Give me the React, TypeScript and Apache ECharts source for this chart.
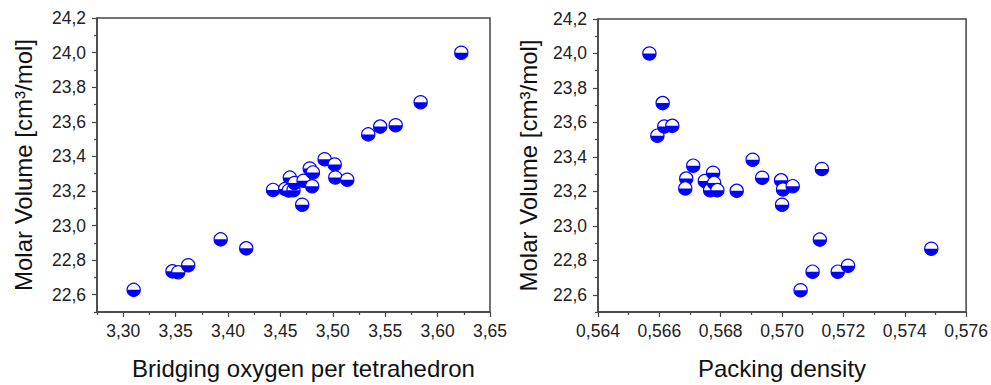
import React, { useEffect, useRef } from 'react';
import * as echarts from 'echarts';

// Left panel: bridging oxygen per tetrahedron vs molar volume
const boLeft = [3.310, 3.347, 3.3525, 3.362, 3.393, 3.4174, 3.443, 3.4546, 3.458, 3.4625, 3.459, 3.4635, 3.4708, 3.4721, 3.478, 3.481, 3.4803, 3.4922, 3.5018, 3.5024, 3.5138, 3.5338, 3.5452, 3.560, 3.5838, 3.6226];
const mvLeft = [22.628, 22.735, 22.730, 22.770, 22.920, 22.868, 23.206, 23.211, 23.203, 23.204, 23.277, 23.246, 23.120, 23.259, 23.330, 23.307, 23.227, 23.383, 23.353, 23.278, 23.265, 23.527, 23.572, 23.580, 23.713, 23.999];

// Right panel: packing density vs molar volume
const pdRight = [0.565676, 0.566108, 0.565935, 0.566162, 0.566422, 0.567104, 0.566877, 0.566845, 0.567483, 0.567753, 0.567655, 0.567785, 0.567892, 0.568522, 0.569041, 0.569352, 0.569968, 0.570033, 0.570348, 0.570000, 0.571298, 0.571232, 0.570995, 0.570605, 0.571816, 0.572151, 0.574865];
const mvRight = [24.000, 23.712, 23.523, 23.576, 23.580, 23.349, 23.274, 23.217, 23.260, 23.308, 23.207, 23.249, 23.207, 23.203, 23.383, 23.279, 23.264, 23.211, 23.230, 23.122, 23.330, 22.920, 22.734, 22.626, 22.734, 22.768, 22.867];

const yMajor = [22.6, 22.8, 23.0, 23.2, 23.4, 23.6, 23.8, 24.0, 24.2];
const yMinor = [22.5, 22.7, 22.9, 23.1, 23.3, 23.5, 23.7, 23.9, 24.1];
const xLeftMajor = [3.30, 3.35, 3.40, 3.45, 3.50, 3.55, 3.60, 3.65];
const xLeftMinor = [3.275, 3.325, 3.375, 3.425, 3.475, 3.525, 3.575, 3.625];
const xRightMajor = [0.564, 0.566, 0.568, 0.570, 0.572, 0.574, 0.576];
const xRightMinor = [0.565, 0.567, 0.569, 0.571, 0.573, 0.575];

const yName = 'Molar Volume [cm³/mol]';
const xNameLeft = 'Bridging oxygen per tetrahedron';
const xNameRight = 'Packing density';

const FONT = '"Liberation Sans", Arial, Helvetica, sans-serif';
const AX = '#444';
const BLUE = '#0000ff';

function mainX(grid: number, min: number, max: number, major: number[], dec: number, name: string, shift: number) {
  return {
    type: 'value', gridIndex: grid, min, max, position: 'bottom',
    name, nameLocation: 'middle', nameGap: 44,
    nameTextStyle: { fontFamily: FONT, fontSize: 24, color: '#111', padding: [0, 0, 0, shift] },
    axisLine: { show: true, lineStyle: { color: AX, width: 1.5 } },
    axisTick: { show: true, inside: false, length: 5, customValues: major, lineStyle: { color: AX, width: 1.2 } },
    axisLabel: { show: true, customValues: major, margin: 10, fontFamily: FONT, fontSize: 17.5, color: '#222',
      formatter: (v: number) => v.toFixed(dec).replace('.', ',') },
    splitLine: { show: false },
  };
}
function minorX(grid: number, min: number, max: number, minor: number[]) {
  return {
    type: 'value', gridIndex: grid, min, max, position: 'bottom',
    axisLine: { show: false },
    axisTick: { show: true, inside: false, length: 3, customValues: minor, lineStyle: { color: AX, width: 1.2 } },
    axisLabel: { show: false },
    splitLine: { show: false },
  };
}
function mainY(grid: number, gap: number) {
  return {
    type: 'value', gridIndex: grid, min: 22.5, max: 24.2, position: 'left',
    name: yName, nameLocation: 'middle', nameGap: gap, nameRotate: 90,
    nameTextStyle: { fontFamily: FONT, fontSize: 24, color: '#111' },
    axisLine: { show: true, lineStyle: { color: AX, width: 1.5 } },
    axisTick: { show: true, inside: false, length: 5, customValues: yMajor, lineStyle: { color: AX, width: 1.2 } },
    axisLabel: { show: true, customValues: yMajor, margin: 11, fontFamily: FONT, fontSize: 17.5, color: '#222',
      formatter: (v: number) => v.toFixed(1).replace('.', ',') },
    splitLine: { show: false },
  };
}
function minorY(grid: number) {
  return {
    type: 'value', gridIndex: grid, min: 22.5, max: 24.2, position: 'left',
    axisLine: { show: false },
    axisTick: { show: true, inside: false, length: 3, customValues: yMinor, lineStyle: { color: AX, width: 1.2 } },
    axisLabel: { show: false },
    splitLine: { show: false },
  };
}

const renderMarker = (params: any, api: any) => {
  const p = api.coord([api.value(0), api.value(1)]);
  const r = 6.6;
  return {
    type: 'group',
    children: [
      { type: 'circle', shape: { cx: p[0], cy: p[1], r }, style: { fill: '#fff', stroke: BLUE, lineWidth: 1.2 } },
      { type: 'sector', shape: { cx: p[0], cy: p[1], r0: 0, r: r, startAngle: 0, endAngle: Math.PI, clockwise: true }, style: { fill: BLUE } },
    ],
  };
};

export default function App() {
  const ref = useRef<HTMLDivElement>(null);
  useEffect(() => {
    document.body.style.margin = '0';
    if (!ref.current) return;
    const chart = echarts.init(ref.current, undefined, { renderer: 'svg' });
    const leftData = boLeft.map((x, i) => [x, mvLeft[i]]);
    const rightData = pdRight.map((x, i) => [x, mvRight[i]]);
    chart.setOption({
      animation: false,
      backgroundColor: '#fff',
      grid: [
        { left: 97, top: 18, width: 393, height: 301, show: true, borderColor: AX, borderWidth: 1.5, backgroundColor: 'transparent' },
        { left: 598, top: 19, width: 370, height: 301, show: true, borderColor: AX, borderWidth: 1.5, backgroundColor: 'transparent' },
      ],
      xAxis: [
        mainX(0, 3.275, 3.65, xLeftMajor, 2, xNameLeft, 20),
        minorX(0, 3.275, 3.65, xLeftMinor),
        mainX(1, 0.564, 0.576, xRightMajor, 3, xNameRight, 0),
        minorX(1, 0.564, 0.576, xRightMinor),
      ],
      yAxis: [mainY(0, 62), minorY(0), mainY(1, 58), minorY(1)],
      series: [
        { type: 'custom', coordinateSystem: 'cartesian2d', xAxisIndex: 0, yAxisIndex: 0, data: leftData, encode: { x: 0, y: 1 }, renderItem: renderMarker, clip: false },
        { type: 'custom', coordinateSystem: 'cartesian2d', xAxisIndex: 2, yAxisIndex: 2, data: rightData, encode: { x: 0, y: 1 }, renderItem: renderMarker, clip: false },
      ],
    });
    return () => chart.dispose();
  }, []);
  return <div ref={ref} style={{ width: 991, height: 385 }} />;
}
